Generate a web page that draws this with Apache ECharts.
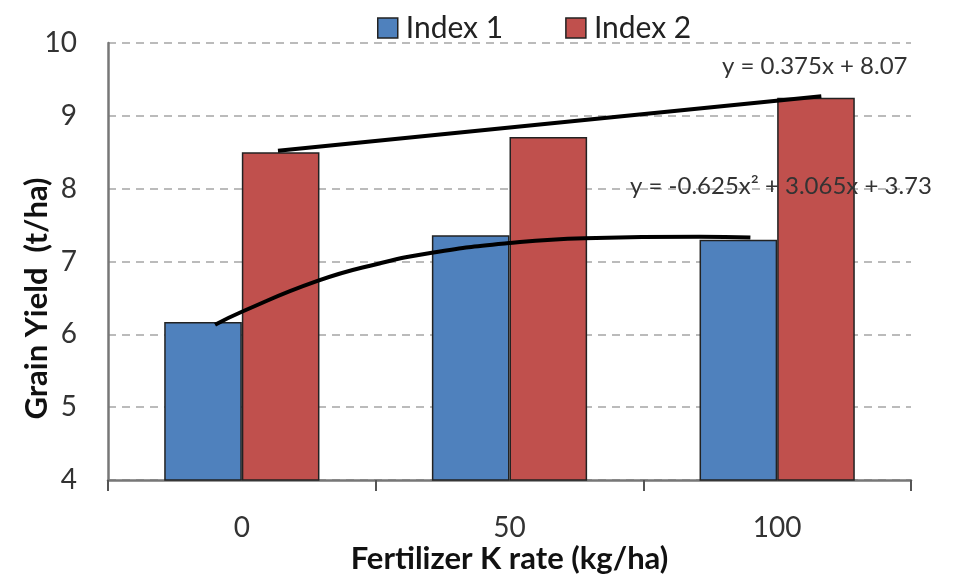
<!DOCTYPE html>
<html>
<head>
<meta charset="utf-8">
<script src="https://cdn.jsdelivr.net/npm/echarts@6/dist/echarts.min.js"></script>
<style>html,body{margin:0;padding:0;background:#fff}#c{width:961px;height:576px}</style>
</head>
<body>
<div id="c"></div>
<script>
var categories = ['0', '50', '100'];
var index1 = [6.17, 7.36, 7.30];
var index2 = [8.50, 8.71, 9.25];
var yTicks = [4, 5, 6, 7, 8, 9, 10];
// trendline points: [x position (category 1..3), value]
var linearTrend = [[1.135, 8.52], [3.165, 9.27]];
var polyTrend = [[0.90, 6.13], [1.00, 6.31], [1.28, 6.73], [1.51, 6.97], [1.71, 7.12], [1.99, 7.25], [2.28, 7.32], [2.71, 7.34], [2.90, 7.33]];
var eqLinear = 'y = 0.375x + 8.07';
var eqPoly = 'y = -0.625x² + 3.065x + 3.73';

var FONT = 'Lato';
var chart = echarts.init(document.getElementById('c'));
chart.setOption({
  animation: false,
  textStyle: { fontFamily: FONT },
  legend: {
    top: 8, left: 372, itemGap: 62, itemWidth: 20, itemHeight: 20,
    textStyle: { fontSize: 30, color: '#222', fontFamily: FONT, padding: [0, 0, 0, 3] },
    data: [
      { name: 'Index 1', icon: 'rect', itemStyle: { borderColor: '#222', borderWidth: 1.5 } },
      { name: 'Index 2', icon: 'rect', itemStyle: { borderColor: '#222', borderWidth: 1.5 } }
    ]
  },
  grid: { left: 108, right: 50, top: 43, bottom: 96, outerBoundsMode: 'none', containLabel: false },
  xAxis: [{
    type: 'category', data: categories,
    axisLine: { lineStyle: { color: '#777', width: 2.5 } },
    axisTick: { show: true, length: 11, lineStyle: { color: '#555', width: 2 } },
    axisLabel: { fontSize: 28, color: '#333', margin: 34, fontFamily: FONT },
    name: 'Fertilizer K rate (kg/ha)', nameLocation: 'middle', nameGap: 63, nameMoveOverlap: false,
    nameTextStyle: { fontSize: 31, fontWeight: 'bold', color: '#111', fontFamily: FONT }
  }, {
    type: 'value', min: 0.5, max: 3.5, show: false
  }],
  yAxis: {
    type: 'value', min: 4, max: 10, interval: 1,
    axisLine: { show: true, lineStyle: { color: '#777', width: 2.5 } },
    axisTick: { show: false },
    splitLine: { show: true, lineStyle: { color: '#bbb', type: [8, 6], width: 2 } },
    axisLabel: { fontSize: 28, color: '#333', margin: 31, fontFamily: FONT },
    name: 'Grain Yield  (t/ha)', nameLocation: 'middle', nameGap: 56, nameRotate: 90, nameMoveOverlap: false,
    nameTextStyle: { fontSize: 31, fontWeight: 'bold', color: '#111', fontFamily: FONT, padding: [0, 74, 0, 0] }
  },
  series: [
    { name: 'Index 1', type: 'bar', data: index1, barGap: '0%', barCategoryGap: '42%',
      itemStyle: { color: '#4F81BD', borderColor: '#222', borderWidth: 1.5 } },
    { name: 'Index 2', type: 'bar', data: index2, barGap: '0%', barCategoryGap: '42%',
      itemStyle: { color: '#C0504D', borderColor: '#222', borderWidth: 1.5 } },
    { name: 'lin', type: 'line', xAxisIndex: 1, data: linearTrend, showSymbol: false, symbol: 'none',
      lineStyle: { color: '#000', width: 4 }, z: 5 },
    { name: 'poly', type: 'line', xAxisIndex: 1, data: polyTrend, showSymbol: false, symbol: 'none',
      smooth: 0.5,
      lineStyle: { color: '#000', width: 4 }, z: 5 }
  ],
  graphic: [
    { type: 'text', left: 722, top: 54, z: 10,
      style: { text: eqLinear, fontSize: 24, fill: '#333', fontFamily: FONT } },
    { type: 'text', left: 630, top: 174, z: 10,
      style: { text: eqPoly, fontSize: 24, fill: '#333', fontFamily: FONT } }
  ]
});
</script>
</body>
</html>
